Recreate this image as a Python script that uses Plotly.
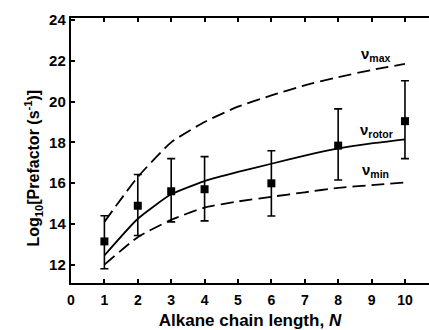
import plotly.graph_objects as go

N_pts = [1, 2, 3, 4, 6, 8, 10]
prefactor = [13.14, 14.89, 15.6, 15.7, 15.99, 17.84, 19.04]
err_plus = [1.26, 1.53, 1.6, 1.6, 1.6, 1.8, 1.98]
err_minus = [1.34, 1.46, 1.5, 1.55, 1.6, 1.69, 1.84]

N_curve = [1, 2, 3, 4, 5, 6, 7, 8, 9, 10]
nu_max = [14.1, 16.3, 18.0, 19.0, 19.75, 20.3, 20.8, 21.2, 21.55, 21.85]
nu_rotor = [12.45, 14.25, 15.45, 16.1, 16.55, 16.95, 17.35, 17.7, 17.95, 18.15]
nu_min = [12.0, 13.35, 14.2, 14.8, 15.1, 15.33, 15.55, 15.77, 15.9, 16.03]

x_ticks = [0, 1, 2, 3, 4, 5, 6, 7, 8, 9, 10]
y_ticks = [12, 14, 16, 18, 20, 22, 24]

FONT = "Liberation Sans"

def bfont(size):
    return dict(family=FONT, size=size, color="black", weight=700)

fig = go.Figure()
fig.add_trace(go.Scatter(x=N_curve, y=nu_max, mode="lines", line=dict(color="black", width=1.8, dash="13px,6px", shape="spline", smoothing=0.5), showlegend=False))
fig.add_trace(go.Scatter(x=N_curve, y=nu_rotor, mode="lines", line=dict(color="black", width=1.8, shape="spline", smoothing=0.5), showlegend=False))
fig.add_trace(go.Scatter(x=N_curve, y=nu_min, mode="lines", line=dict(color="black", width=1.8, dash="13px,6px", shape="spline", smoothing=0.5), showlegend=False))
fig.add_trace(go.Scatter(
    x=N_pts, y=prefactor, mode="markers",
    marker=dict(symbol="square", size=8, color="black"),
    error_y=dict(type="data", symmetric=False, array=err_plus, arrayminus=err_minus,
                 color="black", thickness=1.6, width=4),
    showlegend=False))

fig.add_annotation(x=N_curve[-1], y=nu_max[-1], xshift=-29, yshift=9, text="<b>ν<sub>max</sub></b>", showarrow=False, font=bfont(15))
fig.add_annotation(x=N_curve[-1], y=nu_rotor[-1], xshift=-28, yshift=9, text="<b>ν<sub>rotor</sub></b>", showarrow=False, font=bfont(15))
fig.add_annotation(x=N_curve[-1], y=nu_min[-1], xshift=-29, yshift=12, text="<b>ν<sub>min</sub></b>", showarrow=False, font=bfont(15))

# y-axis title as rotated annotation for precise placement
fig.add_annotation(xref="paper", yref="paper", x=0, y=0.5, xshift=-51, yshift=-18,
                   text="<b>Log<sub>10</sub>[Prefactor (s<sup>-1</sup>)]</b>",
                   textangle=-90, showarrow=False, font=bfont(16))

fig.update_layout(
    width=429, height=330,
    margin=dict(l=71, r=0, t=18, b=47),
    paper_bgcolor="white", plot_bgcolor="white",
    font=bfont(14),
)
fig.update_xaxes(
    range=[0, 10.72], tickvals=x_ticks,
    ticks="inside", ticklen=4, tickwidth=1.6, tickcolor="black",
    showline=True, linewidth=2.4, linecolor="black", mirror="ticks", showgrid=False, zeroline=False,
    title=dict(text="<b>Alkane chain length, <i>N</i></b>", font=bfont(17), standoff=8),
    tickfont=bfont(14), ticklabelstandoff=3,
)
fig.update_yaxes(
    range=[11.1, 24.1], tickvals=y_ticks,
    ticks="inside", ticklen=4, tickwidth=1.6, tickcolor="black",
    showline=True, linewidth=2.4, linecolor="black", mirror=False, showgrid=False, zeroline=False,
    tickfont=bfont(15),
)

fig.write_html("out.html")
